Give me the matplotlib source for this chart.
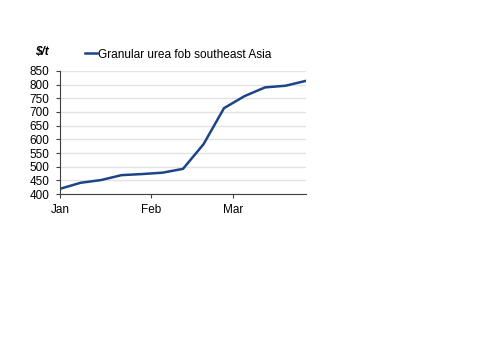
import datetime as dt

import matplotlib

matplotlib.use("Agg")
import matplotlib.pyplot as plt  # noqa: E402
import matplotlib.dates as mdates  # noqa: E402

# weekly granular urea fob southeast Asia, $/t
dates = [dt.date(2022, 1, 1) + dt.timedelta(days=7 * i) for i in range(13)]
prices = [419, 441, 451, 469, 473, 478, 492, 582, 714, 758, 790, 796, 814]
series_label = "Granular urea fob southeast Asia"
unit_label = "$/t"
yticks = list(range(400, 851, 50))

LINE = "#1c4587"
FONT = "Liberation Sans"

fig = plt.figure(figsize=(5.0, 3.53), dpi=100)
ax = fig.add_axes([0.12, 0.4504, 0.492, 0.3485])
ax.plot(dates, prices, color=LINE, lw=1.8, label=series_label)

ax.set_ylim(400, 850)
ax.set_yticks(yticks)
ax.set_xlim(dates[0], dates[-1])
ax.xaxis.set_major_locator(mdates.MonthLocator())
ax.xaxis.set_major_formatter(mdates.DateFormatter("%b"))
ax.grid(axis="y", color="#e3e3e3", lw=1.0)
ax.set_axisbelow(True)
for side in ("top", "right"):
    ax.spines[side].set_visible(False)
for side in ("left", "bottom"):
    ax.spines[side].set_color("#404040")
ax.tick_params(axis="y", length=3, labelsize=8.5, pad=4.5, color="#404040")
ax.tick_params(axis="x", length=3, labelsize=8.5, pad=4, color="#404040")
for lab in ax.get_xticklabels() + ax.get_yticklabels():
    lab.set_family(FONT)

fig.text(0.07, 0.853, unit_label, fontsize=8.5, fontweight="bold", style="italic",
         family=FONT, ha="left", va="center")
ax.legend(loc="lower left", bbox_to_anchor=(0.10, 1.085), frameon=False,
          prop={"family": FONT, "size": 8.6},
          handlelength=1.0, handletextpad=0.1, borderaxespad=0.0, borderpad=0.0)

fig.savefig("out.png", dpi=100)
